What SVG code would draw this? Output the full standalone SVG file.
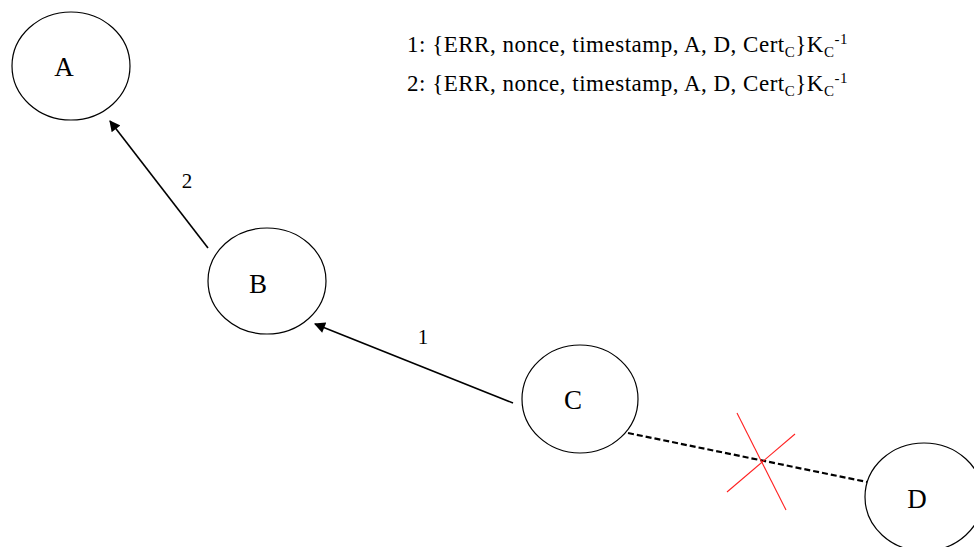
<svg xmlns="http://www.w3.org/2000/svg" width="974" height="547" viewBox="0 0 974 547">
<style>
.node ellipse{fill:#fff;stroke:#000;stroke-width:1.2}
.lbl{font-family:"Liberation Serif",serif;font-size:27px;fill:#000;text-anchor:middle}
.msg{font-family:"Liberation Serif",serif;font-size:23px;letter-spacing:0.5px;fill:#000}
.sub{font-size:15px}
.num{font-family:"Liberation Serif",serif;font-size:21px;fill:#000;text-anchor:middle}
.arrow{stroke:#000;stroke-width:1.6;fill:none;marker-end:url(#ah)}
.dash{stroke:#000;stroke-width:2.2;stroke-dasharray:6 3;fill:none}
.cross{stroke:#ff2020;stroke-width:1.1}
</style>
<defs>
<marker id="ah" viewBox="0 0 10 10" refX="9" refY="5" markerWidth="12" markerHeight="11" markerUnits="userSpaceOnUse" orient="auto">
<path d="M0,0 L10,5 L0,10 z" fill="#000"/>
</marker>
</defs>
<rect width="974" height="547" fill="#fff"/>
<g id="connectors">
<line class="arrow" x1="208" y1="248" x2="110" y2="121"/>
<line class="arrow" x1="513" y1="403" x2="315" y2="324"/>
<line class="dash" x1="628" y1="433" x2="867" y2="482"/>
<line class="cross" x1="737" y1="413" x2="786" y2="510"/>
<line class="cross" x1="795" y1="434" x2="727" y2="492"/>
<text class="num" x="187" y="188">2</text>
<text class="num" x="423" y="344">1</text>
</g>
<g id="node-A" class="node"><ellipse cx="71" cy="66" rx="59" ry="54"/><text class="lbl" x="64" y="76">A</text></g>
<g id="node-B" class="node"><ellipse cx="267" cy="281" rx="59" ry="53"/><text class="lbl" x="258" y="293">B</text></g>
<g id="node-C" class="node"><ellipse cx="580" cy="399" rx="58" ry="54"/><text class="lbl" x="573" y="409">C</text></g>
<g id="node-D" class="node"><ellipse cx="924" cy="497" rx="59" ry="54"/><text class="lbl" x="917" y="508">D</text></g>
<g id="legend">
<text class="msg" x="407" y="52">1: {ERR, nonce, timestamp, A, D, Cert<tspan class="sub" dy="5">C</tspan><tspan dy="-5">}K</tspan><tspan class="sub" dy="5">C</tspan><tspan class="sub" dy="-13">-1</tspan></text>
<text class="msg" x="407" y="91">2: {ERR, nonce, timestamp, A, D, Cert<tspan class="sub" dy="5">C</tspan><tspan dy="-5">}K</tspan><tspan class="sub" dy="5">C</tspan><tspan class="sub" dy="-13">-1</tspan></text>
</g>
</svg>
